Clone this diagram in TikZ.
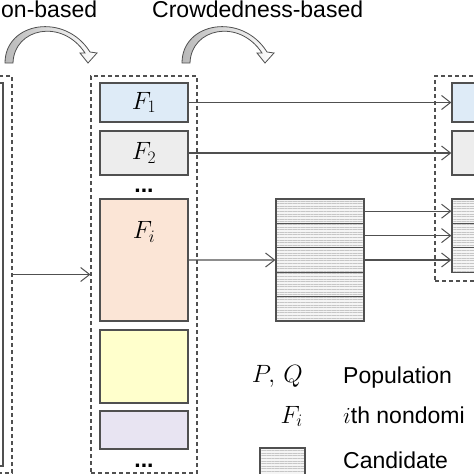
\documentclass[tikz,border=0pt]{standalone}
\usepackage{fix-cm}
\usepackage{fontspec}
\setmainfont{Liberation Sans}
\usepackage{tikz}
\usetikzlibrary{arrows.meta,patterns.meta}
\definecolor{cblue}{RGB}{222,235,247}
\definecolor{cgray}{RGB}{237,237,237}
\definecolor{cpeach}{RGB}{251,229,214}
\definecolor{cyel}{RGB}{255,255,204}
\definecolor{cpurple}{RGB}{232,228,242}
\definecolor{cline}{RGB}{80,80,80}

\begin{document}
\begin{tikzpicture}[x=1pt, y=-1pt,
      front/.style={draw=cline, line width=1.3pt, minimum width=88pt, inner sep=0pt,
                    font=\fontsize{25}{28}\selectfont},
      cont/.style={draw=cline, line width=1.1pt, dash pattern=on 4pt off 3pt, inner sep=0pt},
      hatch/.style={draw=cline, line width=1.3pt, minimum width=88pt, minimum height=24.4pt, inner sep=0pt,
                    preaction={fill=gray!8}, pattern={Lines[distance=2.6pt, line width=0.6pt]},
                    pattern color=gray!45},
      arrow/.style={-{Straight Barb[length=9pt, width=14pt, line width=1pt]}, line width=1.1pt, cline},
      txt/.style={font=\fontsize{23}{26}\selectfont, inner sep=0pt},
      mtxt/.style={font=\fontsize{25}{28}\selectfont, inner sep=0pt},
      swoop/.style={draw=cline, line width=0.8pt, left color=gray!55, right color=white}
    ]
    \useasboundingbox (0,0) rectangle (474,474);

    % left column (cut off)
    \node[cont, minimum width=112pt, minimum height=397pt] (lcont) at (-44,274.5) {};
    \node[front, minimum height=383pt] (lbox) at (-41,274.5) {};

    % fronts
    \node[cont, minimum width=106pt, minimum height=397pt] (mcont) at (144,274.5) {};
    \node[front, fill=cblue, minimum height=39pt] (fone) at (144,102.5) {$F_1$};
    \node[front, fill=cgray, minimum height=44pt] (ftwo) at (144,153) {$F_2$};
    \node[txt, anchor=base] (dotsa) at (144,192) {\textbf{...}};
    \node[front, fill=cpeach, minimum height=122pt,
          label={[mtxt, anchor=north, yshift=-23pt]north:$F_i$}] (fi) at (144,260) {};
    \node[front, fill=cyel, minimum height=73pt] (fyel) at (144,366.5) {};
    \node[front, fill=cpurple, minimum height=38pt] (fpur) at (144,430) {};
    \node[txt, anchor=base] (dotsb) at (144,467) {\textbf{...}};

    % candidate
    \foreach \k in {1,...,5}
      \node[hatch] (cr\k) at (320,186.8+24.4*\k) {};

    % next population (cut off)
    \node[cont, minimum width=130pt, minimum height=205pt] (rcont) at (500,178.5) {};
    \node[front, fill=cblue, minimum height=39pt] (rone) at (496,102.5) {};
    \node[front, fill=cgray, minimum height=44pt] (rtwo) at (496,153) {};
    \foreach \k in {1,2,3}
      \node[hatch] (rc\k) at (496,186.8+24.4*\k) {};

    \draw[arrow] (lcont) -- (mcont);
    \draw[arrow] (fone) -- (rone);
    \draw[arrow] (ftwo) -- (rtwo);
    \draw[arrow] (fi) -- (cr3);
    \foreach \k in {1,2,3}
      \draw[arrow] (cr\k) -- (rc\k);

    % curved arrows
    \foreach \dx in {0,177}
      \path[swoop, xshift=\dx pt] (5,63) .. controls (5,22) and (65,12) .. (90,52) -- (97,53) -- (88,63)
        -- (80,53) -- (85,53) .. controls (62,18) and (14,28) .. (13,63) -- cycle;
    \node[txt, anchor=base west] (lbla) at (1,17) {on-based};
    \node[txt, anchor=base west] (lblb) at (152,17) {Crowdedness-based};

    % legend
    \node[mtxt, anchor=base east] (lpq) at (303,382) {$P,\,Q$};
    \node[txt, anchor=base west] (lpop) at (343,383) {Population};
    \node[mtxt, anchor=base east] (lfi) at (303,423) {$F_i$};
    \node[txt, anchor=base west] (lnd) at (343,423) {$i$th nondomi};
    \node[hatch, minimum width=45pt, minimum height=30pt] (lcand) at (282.5,463) {};
    \node[txt, anchor=base west] (lctxt) at (343,468) {Candidate};
  \end{tikzpicture}
\end{document}
